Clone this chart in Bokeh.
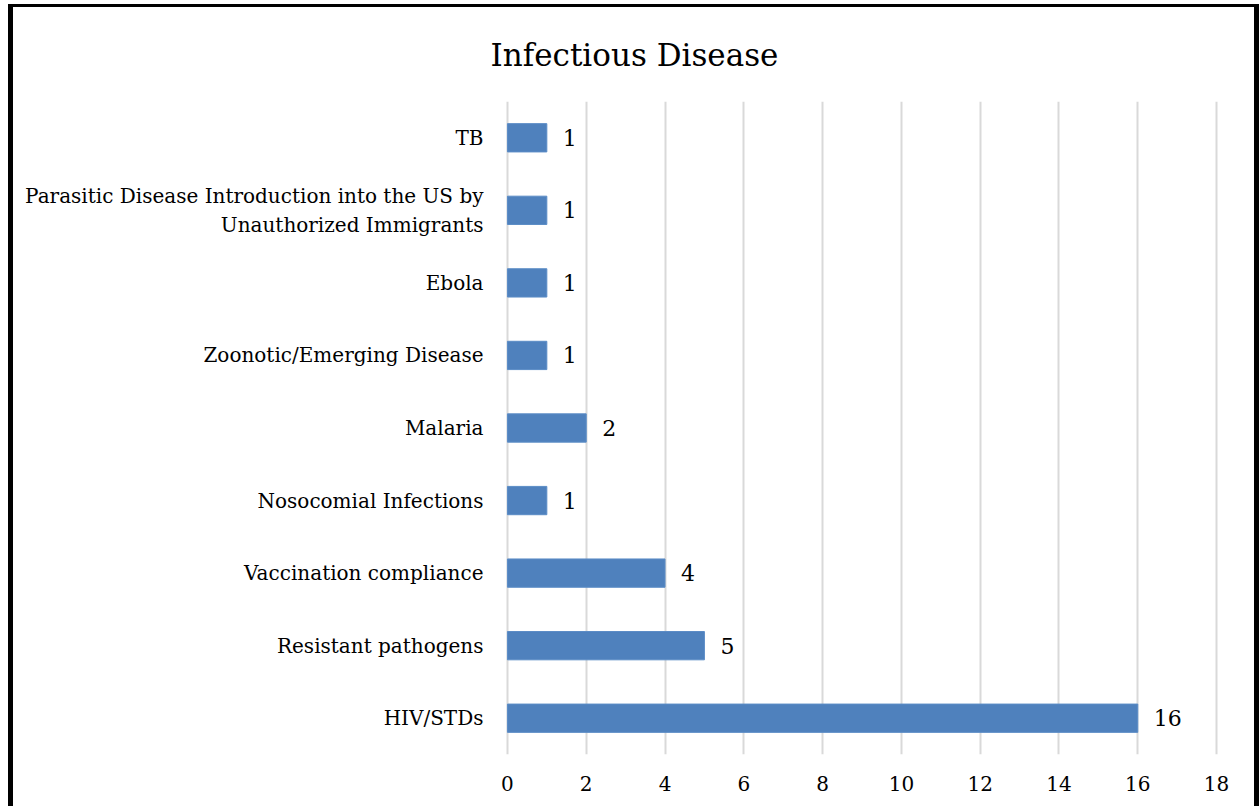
from bokeh.plotting import figure
from bokeh.models import FactorRange, Range1d, ColumnDataSource, LabelSet
from bokeh.embed import file_html
from bokeh.resources import INLINE
from bokeh.core.properties import value

# ---- data (bottom to top) ----
categories = [
    "HIV/STDs",
    "Resistant pathogens",
    "Vaccination compliance",
    "Nosocomial Infections",
    "Malaria",
    "Zoonotic/Emerging Disease",
    "Ebola",
    "Parasitic Disease Introduction into the US by\nUnauthorized Immigrants",
    "TB",
]
counts = [16, 5, 4, 1, 2, 1, 1, 1, 1]
x_ticks = [0, 2, 4, 6, 8, 10, 12, 14, 16, 18]
title_text = "Infectious Disease"

FONT = "DejaVu Serif"
BAR = "#4f81bd"

source = ColumnDataSource(dict(cat=categories, val=counts, lab=[str(c) for c in counts]))

p = figure(
    width=1241, height=799,
    y_range=FactorRange(factors=categories),
    x_range=Range1d(-0.1, 18.1),
    output_backend="svg", toolbar_location=None,
    min_border_left=490, min_border_right=44,
    min_border_top=94, min_border_bottom=55,
    background_fill_color="white", border_fill_color="white",
    styles={
        "box-sizing": "content-box",
        "border-left": "5px solid black",
        "border-right": "5px solid black",
        "border-top": "3px solid black",
        "margin-left": "8px",
        "margin-top": "4px",
    },
)
p.outline_line_color = None

p.hbar(y="cat", right="val", left=0, height=0.39, source=source,
       fill_color=BAR, line_color="#5b8cc6", line_width=1)

labels = LabelSet(x="val", y="cat", text="lab", source=source, x_offset=16,
                  text_baseline="middle", text_align="left",
                  text_font=value(FONT), text_font_size="22px", text_color="black")
p.add_layout(labels)

p.title.text = title_text
p.title.align = "left"
p.title.vertical_align = "top"
p.title.offset = -13
p.title.standoff = 54
p.title.text_font = FONT
p.title.text_font_size = "31px"
p.title.text_font_style = "normal"
p.title.text_color = "black"

p.xaxis.ticker = x_ticks
p.xaxis.axis_line_color = None
p.xaxis.major_tick_line_color = None
p.xaxis.minor_tick_line_color = None
p.xaxis.major_tick_out = 0
p.xaxis.major_tick_in = 0
p.xaxis.major_label_standoff = 21
p.xaxis.major_label_text_font = FONT
p.xaxis.major_label_text_font_size = "20px"
p.xaxis.major_label_text_color = "black"

p.yaxis.axis_line_color = None
p.yaxis.major_tick_line_color = None
p.yaxis.major_tick_out = 0
p.yaxis.major_tick_in = 0
p.yaxis.major_label_standoff = 20
p.yaxis.major_label_text_font = FONT
p.yaxis.major_label_text_font_size = "20px"
p.yaxis.major_label_text_color = "black"

p.ygrid.visible = False
p.xgrid.grid_line_color = "#d9d9d9"
p.xgrid.grid_line_width = 2

open("out.html", "w").write(file_html(p, INLINE))
